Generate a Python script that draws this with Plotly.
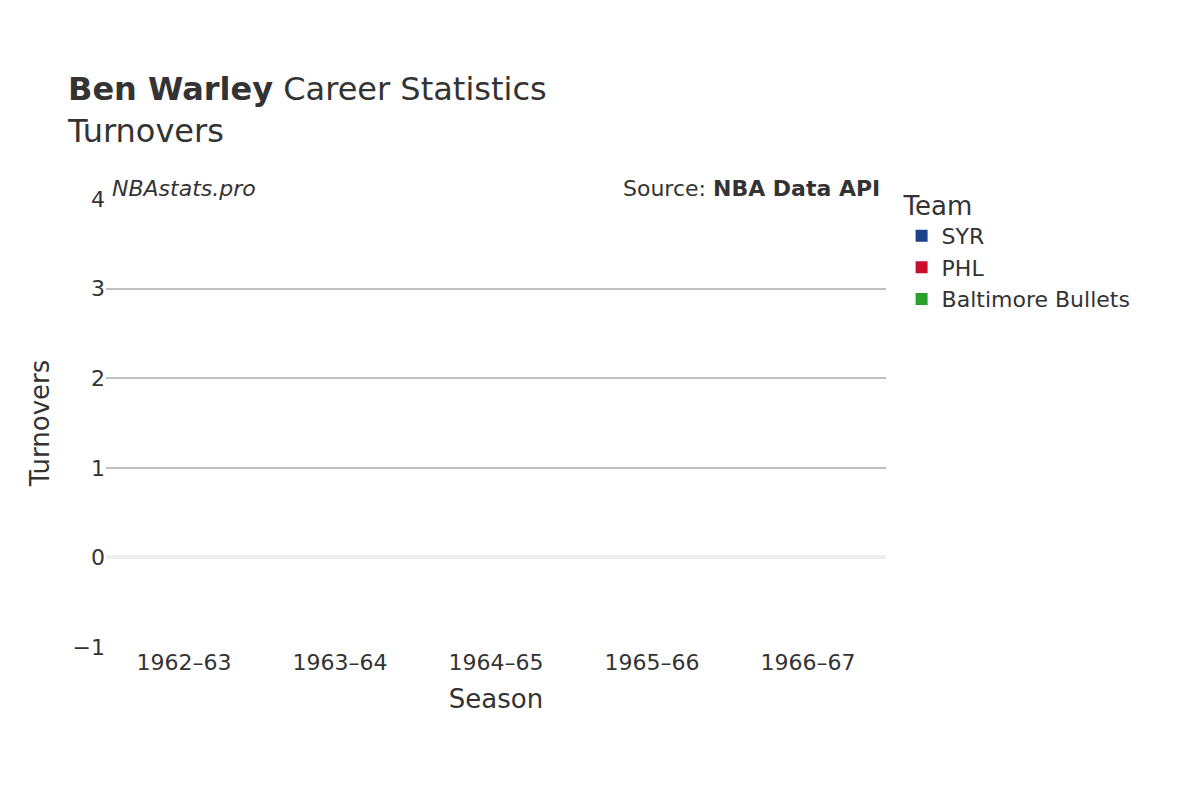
import plotly.graph_objects as go

seasons = ["1962–63", "1963–64", "1964–65", "1965–66", "1966–67"]
teams = ["SYR", "PHL", "Baltimore Bullets"]
colors = ["#1d428a", "#c8102e", "#2ca02c"]
# no turnover data recorded for these seasons
turnovers = {
    "SYR": [None, None, None, None, None],
    "PHL": [None, None, None, None, None],
    "Baltimore Bullets": [None, None, None, None, None],
}

fig = go.Figure()
for team, col in zip(teams, colors):
    fig.add_trace(go.Scatter(
        x=seasons, y=turnovers[team], name=team, mode="markers",
        marker=dict(color=col, size=22, symbol="square"),
    ))

font = "DejaVu Sans"
fig.update_layout(
    width=1200, height=800,
    template="plotly_white",
    font=dict(family=font, size=20, color="#333"),
    title=dict(
        text="<b>Ben Warley</b> Career Statistics<br>Turnovers",
        x=0.05, y=0.885, font=dict(size=32, color="#333"),
    ),
    margin=dict(l=98, r=322, t=191, b=161),
    xaxis=dict(title=dict(text="Season", font=dict(size=26)), type="category",
               range=[-0.5, 4.5], showgrid=False, tickfont=dict(size=22)),
    yaxis=dict(title=dict(text="Turnovers", font=dict(size=26)), range=[-1, 4],
               dtick=1, gridcolor="#c0c0c0", gridwidth=1.5,
               zerolinecolor="#eeeeee", zerolinewidth=4, tickfont=dict(size=22)),
    legend=dict(title=dict(text="Team", font=dict(size=26)), x=1.02, y=1.04,
                yanchor="top", font=dict(size=22), itemsizing="constant",
                tracegroupgap=8),
    annotations=[
        dict(text="<i>NBAstats.pro</i>", xref="paper", yref="paper", x=0.005, y=0.99,
             xanchor="left", yanchor="bottom", showarrow=False, font=dict(size=22)),
        dict(text="Source: <b>NBA Data API</b>", xref="paper", yref="paper", x=0.995, y=0.99,
             xanchor="right", yanchor="bottom", showarrow=False, font=dict(size=22)),
    ],
)
fig.write_html("out.html")
